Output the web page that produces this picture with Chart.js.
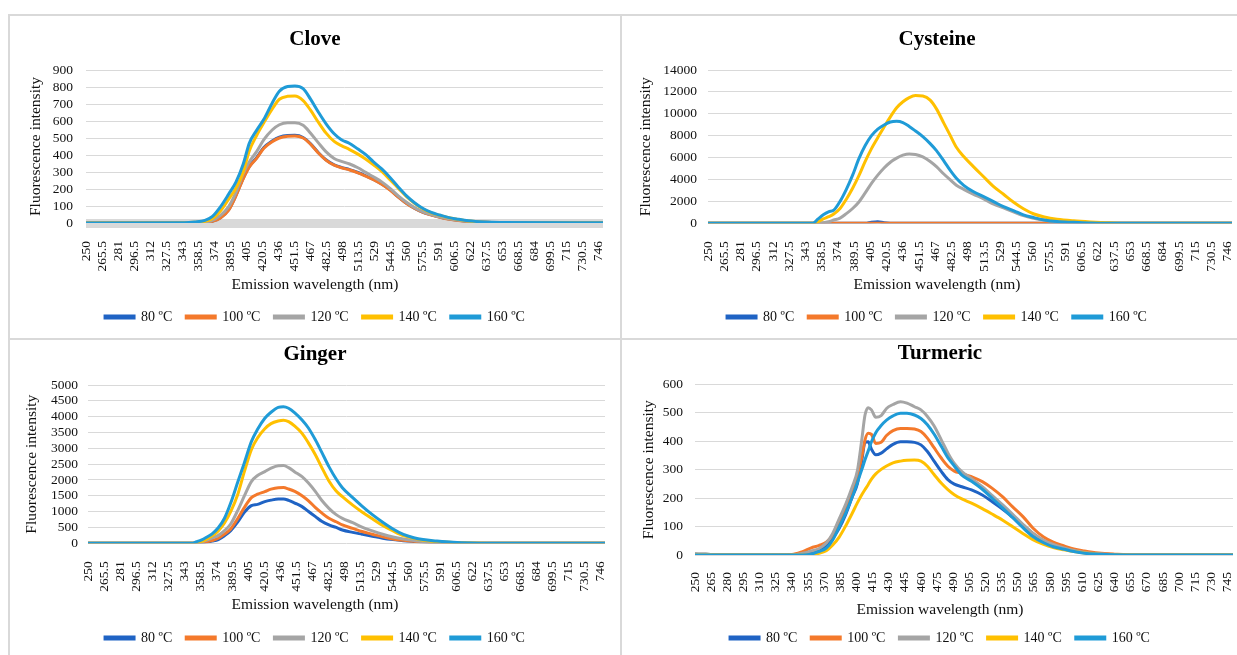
<!DOCTYPE html>
<html>
<head>
<meta charset="utf-8">
<script src="https://cdn.jsdelivr.net/npm/chart.js@4.4.0/dist/chart.umd.min.js"></script>
<style>
  html, body { margin: 0; padding: 0; background: #fff; }
  body { width: 1237px; height: 655px; position: relative; overflow: hidden; }
  .rule { position: absolute; background: #d9d9d9; }
  canvas { position: absolute; }
</style>
</head>
<body>
<div class="rule" style="left:9px;top:14px;width:1228px;height:2px"></div>
<div class="rule" style="left:8px;top:14px;width:2px;height:641px"></div>
<div class="rule" style="left:620px;top:14px;width:2px;height:641px"></div>
<div class="rule" style="left:9px;top:338px;width:1228px;height:2px"></div>
<canvas id="clove" width="612" height="324" style="left:9px;top:15px"></canvas>
<canvas id="cysteine" width="616" height="324" style="left:621px;top:15px"></canvas>
<canvas id="ginger" width="612" height="316" style="left:9px;top:339px"></canvas>
<canvas id="turmeric" width="616" height="316" style="left:621px;top:339px"></canvas>
<script>
// series names and axis labels
const seriesNames = ['80 ºC', '100 ºC', '120 ºC', '140 ºC', '160 ºC'];
const tickNm = [250, 265.5, 281, 296.5, 312, 327.5, 343, 358.5, 374, 389.5, 405, 420.5, 436, 451.5, 467, 482.5,
  498, 513.5, 529, 544.5, 560, 575.5, 591, 606.5, 622, 637.5, 653, 668.5, 684, 699.5, 715, 730.5, 746];
const tickNmTurmeric = [250, 265, 280, 295, 310, 325, 340, 355, 370, 385, 400, 415, 430, 445, 460, 475, 490,
  505, 520, 535, 550, 565, 580, 595, 610, 625, 640, 655, 670, 685, 700, 715, 730, 745];

// Clove
const cloveNm = [250, 345, 355, 365, 372, 380, 388, 395, 402, 408, 415, 422, 430, 437, 445, 452, 460, 467, 475, 482,
  490, 497, 505, 513, 520, 528, 536, 544, 552, 560, 568, 576, 584, 592, 600, 610, 620, 635, 650, 750];
const clove80 = [0, 0, 1, 4, 10, 31, 78, 162, 263, 333, 384, 444, 482, 505, 515, 516, 503, 467, 412, 372,
  342, 327, 314, 297, 279, 257, 230, 196, 154, 116, 86, 63, 48, 35, 25, 16, 9, 4, 2, 0];
const clove100 = [0, 0, 1, 4, 10, 30, 76, 160, 260, 330, 380, 440, 478, 500, 510, 512, 500, 465, 410, 370,
  340, 325, 312, 295, 277, 255, 228, 194, 152, 115, 85, 62, 47, 34, 24, 15, 9, 4, 2, 0];
const clove120 = [0, 0, 2, 6, 15, 45, 96, 180, 290, 360, 420, 490, 547, 578, 590, 590, 575, 530, 470, 420,
  380, 362, 347, 325, 300, 272, 242, 204, 160, 122, 90, 66, 50, 36, 26, 17, 10, 4, 2, 0];
const clove140 = [0, 1, 4, 10, 25, 70, 140, 205, 300, 425, 515, 590, 670, 728, 745, 747, 720, 665, 590, 530,
  480, 455, 432, 405, 378, 342, 303, 255, 205, 155, 115, 82, 60, 45, 32, 21, 12, 5, 2, 1];
const clove160 = [0, 2, 6, 15, 37, 95, 170, 240, 345, 470, 545, 610, 705, 775, 803, 806, 790, 730, 650, 585,
  525, 490, 468, 435, 405, 360, 318, 268, 212, 160, 118, 85, 62, 47, 33, 22, 13, 6, 3, 1];

// Cysteine
const cysNm = [250, 350, 355, 360, 365, 370, 376, 382, 388, 394, 400, 406, 412, 418, 424, 430, 436, 442, 448, 455,
  462, 468, 475, 481, 487, 494, 503, 513, 522, 532, 542, 551, 561, 571, 583, 599, 615, 630, 645, 750];
const cys80 = [0, 0, 0, 0, 0, 0, 0, 0, 0, 0, 0, 100, 150, 40, 0, 0, 0, 0, 0, 0,
  0, 0, 0, 0, 0, 0, 0, 0, 0, 0, 0, 0, 0, 0, 0, 0, 0, 0, 0, 0];
const cys100 = [0, 0, 0, 0, 0, 0, 0, 0, 0, 0, 0, 0, 0, 0, 0, 0, 0, 0, 0, 0,
  0, 0, 0, 0, 0, 0, 0, 0, 0, 0, 0, 0, 0, 0, 0, 0, 0, 0, 0, 0];
const cys120 = [0, 0, 0, 50, 150, 300, 480, 880, 1350, 1950, 2780, 3650, 4400, 5050, 5580, 5950, 6220, 6330, 6290, 6060,
  5640, 5170, 4500, 3980, 3480, 3100, 2670, 2230, 1770, 1400, 1030, 700, 460, 280, 160, 80, 30, 10, 0, 0];
const cys140 = [0, 0, 150, 400, 600, 850, 1350, 2200, 3200, 4350, 5650, 6820, 7820, 8800, 9720, 10550, 11100, 11480, 11660, 11620,
  11250, 10450, 9150, 8050, 6950, 6100, 5200, 4250, 3400, 2650, 1900, 1330, 850, 580, 380, 230, 130, 60, 10, 0];
const cys160 = [0, 0, 400, 780, 1050, 1200, 2000, 3100, 4400, 5900, 7100, 8000, 8600, 8980, 9250, 9315, 9200, 8850, 8430, 7915,
  7280, 6640, 5700, 4850, 4110, 3470, 2900, 2430, 2000, 1520, 1140, 770, 520, 300, 155, 90, 30, 10, 0, 0];

// Ginger
const gingerNm = [250, 350, 355, 360, 365, 370, 376, 382, 388, 395, 401, 408, 414, 421, 427, 434, 439, 444, 450, 457,
  463, 470, 476, 483, 490, 496, 506, 515, 525, 535, 545, 555, 565, 574, 587, 603, 620, 640, 750];
const ginger80 = [0, 0, 3, 15, 40, 70, 120, 240, 400, 684, 970, 1189, 1228, 1316, 1363, 1400, 1402, 1358, 1270, 1158,
  1012, 842, 696, 579, 500, 421, 345, 287, 223, 160, 116, 83, 58, 38, 17, 5, 1, 0, 0];
const ginger100 = [0, 0, 5, 20, 50, 90, 160, 290, 455, 790, 1120, 1442, 1550, 1631, 1710, 1757, 1760, 1716, 1640, 1505,
  1350, 1126, 960, 790, 680, 579, 472, 372, 287, 202, 137, 94, 62, 40, 18, 6, 2, 0, 0];
const ginger120 = [0, 0, 10, 40, 100, 170, 250, 400, 610, 1050, 1480, 1950, 2140, 2263, 2375, 2452, 2455, 2389, 2255, 2105,
  1910, 1631, 1360, 1105, 905, 790, 650, 512, 393, 286, 200, 135, 86, 58, 28, 10, 3, 0, 0];
const ginger140 = [0, 0, 20, 60, 140, 240, 390, 640, 1000, 1560, 2240, 2960, 3330, 3620, 3780, 3865, 3890, 3842, 3700, 3473,
  3180, 2789, 2400, 1968, 1650, 1474, 1205, 990, 775, 562, 389, 240, 155, 98, 55, 22, 6, 2, 0];
const ginger160 = [0, 0, 50, 110, 200, 300, 490, 790, 1270, 1950, 2520, 3210, 3600, 3950, 4140, 4295, 4316, 4265, 4120, 3895,
  3650, 3263, 2880, 2421, 2030, 1757, 1440, 1175, 905, 668, 453, 280, 175, 117, 75, 33, 10, 3, 0];

// Turmeric
const turNm = [250, 260, 270, 340, 350, 358, 365, 372, 378, 384, 390, 396, 401, 405, 408, 411, 414, 418, 423, 428,
  434, 441, 447, 454, 460, 466, 472, 479, 485, 491, 498, 507, 517, 526, 536, 545, 555, 564, 574, 583,
  593, 602, 612, 625, 640, 660, 750];
const tur80 = [0, 0, 0, 0, 2, 8, 16, 30, 59, 94, 142, 203, 252, 332, 395, 398, 372, 352, 358, 373,
  389, 398, 398, 396, 387, 364, 331, 293, 265, 249, 240, 229, 211, 188, 161, 134, 104, 76, 50, 35,
  23, 15, 9, 4, 1, 0, 0];
const tur100 = [0, 0, 0, 2, 12, 25, 33, 45, 70, 113, 165, 225, 282, 345, 405, 428, 424, 392, 396, 420,
  437, 445, 445, 443, 434, 411, 378, 340, 312, 295, 287, 275, 258, 235, 204, 170, 134, 95, 63, 45,
  32, 21, 14, 7, 3, 0, 0];
const tur120 = [5, 4, 0, 0, 6, 14, 22, 42, 76, 127, 178, 238, 298, 405, 492, 518, 510, 484, 490, 515,
  529, 539, 534, 521, 510, 487, 455, 404, 359, 322, 293, 268, 240, 210, 176, 144, 107, 77, 52, 37,
  25, 16, 9, 4, 1, 0, 0];
const tur140 = [0, 0, 0, 0, 0, 2, 6, 15, 35, 63, 102, 146, 184, 212, 230, 248, 267, 285, 301, 313,
  324, 330, 333, 334, 330, 312, 284, 252, 230, 212, 197, 182, 163, 144, 122, 100, 75, 54, 37, 26,
  18, 12, 7, 3, 1, 0, 0];
const tur160 = [0, 0, 0, 0, 0, 3, 12, 24, 53, 99, 147, 203, 256, 300, 335, 366, 398, 430, 455, 474,
  489, 498, 498, 492, 480, 458, 426, 381, 342, 313, 281, 259, 231, 200, 165, 132, 95, 65, 43, 29,
  20, 12, 6, 3, 1, 0, 0];

const colors = ['#1f63c4', '#f4792b', '#a5a5a5', '#ffc000', '#1f9bd7'];
const serif = "'Liberation Serif', 'Times New Roman', serif";
const ink = '#111';

function drawPanel(id, title, nm, series, ticks, yMax, yStep, box) {
  const datasets = series.map((values, i) => ({
    label: seriesNames[i],
    data: values.map((v, j) => ({ x: nm[j], y: v })),
    borderColor: colors[i],
    backgroundColor: colors[i],
    borderWidth: 3,
    pointRadius: 0,
    cubicInterpolationMode: 'monotone',
    order: series.length - i   // later series on top, like Excel
  }));

  new Chart(document.getElementById(id), {
    type: 'line',
    data: { datasets },
    options: {
      responsive: false,
      animation: false,
      layout: { padding: { left: box.padL, right: box.padR, top: 0, bottom: box.padB } },
      plugins: {
        title: {
          display: true, text: title, color: '#000',
          font: { family: serif, size: 21, weight: 'bold' },
          padding: { top: box.titleTop, bottom: box.titleBottom }
        },
        subtitle: {
          display: true, text: 'Emission wavelength (nm)', position: 'bottom', weight: 500,
          color: ink, font: { family: serif, size: 15.5 },
          padding: { top: 0, bottom: box.xTitleBottom }
        },
        legend: {
          position: 'bottom',
          labels: {
            boxWidth: 29, boxHeight: 2, padding: 14, color: ink,
            font: { family: serif, size: 14 },
            sort: (a, b) => a.datasetIndex - b.datasetIndex
          }
        },
        tooltip: { enabled: false }
      },
      scales: {
        x: {
          type: 'linear', min: 250, max: 750,
          afterBuildTicks: s => { s.ticks = ticks.map(v => ({ value: v })); },
          afterFit: s => { s.height = box.xHeight; s.paddingLeft = 0; s.paddingRight = 0; },
          ticks: {
            autoSkip: false, minRotation: 90, maxRotation: 90, padding: box.xTickPad,
            color: ink, font: { family: serif, size: 13.5 },
            callback: v => String(v)
          },
          grid: { display: false },
          border: { display: false }
        },
        y: {
          min: 0, max: yMax,
          afterFit: s => { s.width = box.yWidth; s.paddingTop = 0; s.paddingBottom = 0; },
          ticks: {
            stepSize: yStep, autoSkip: false, padding: box.yTickPad, color: ink,
            font: { family: serif, size: 13.5 },
            callback: v => String(v)
          },
          grid: {
            color: '#d9d9d9', drawTicks: false,
            lineWidth: c => (box.zeroBand && c.tick && c.tick.value === 0) ? 9 : 1
          },
          border: { display: false },
          title: {
            display: true, text: 'Fluorescence intensity', color: ink,
            font: { family: serif, size: 15.5 },
            padding: { top: box.yTitlePad, bottom: 0 }
          }
        }
      }
    }
  });
}

drawPanel('clove', 'Clove', cloveNm, [clove80, clove100, clove120, clove140, clove160], tickNm, 900, 100,
  { padL: 18, padR: 18, padB: 5, titleTop: 12.4, titleBottom: 17.4, xTitleBottom: 1.7, xHeight: 52.7,
    yWidth: 59, yTitlePad: -0.7, yTickPad: 13, xTickPad: 10, zeroBand: true });

drawPanel('cysteine', 'Cysteine', cysNm, [cys80, cys100, cys120, cys140, cys160], tickNm, 14000, 2000,
  { padL: 21, padR: 5, padB: 5, titleTop: 12.4, titleBottom: 17.4, xTitleBottom: 1.7, xHeight: 52.4,
    yWidth: 66, yTitlePad: -5.7, yTickPad: 11, xTickPad: 10 });

drawPanel('ginger', 'Ginger', gingerNm, [ginger80, ginger100, ginger120, ginger140, ginger160], tickNm, 5000, 500,
  { padL: 16, padR: 16, padB: 0, titleTop: 2.7, titleBottom: 18.1, xTitleBottom: 2.7, xHeight: 52.4,
    yWidth: 63, yTitlePad: -2.7, yTickPad: 10, xTickPad: 10 });

drawPanel('turmeric', 'Turmeric', turNm, [tur80, tur100, tur120, tur140, tur160], tickNmTurmeric, 600, 100,
  { padL: 26, padR: 4, padB: 0, titleTop: 1.7, titleBottom: 18.4, xTitleBottom: -2.3, xHeight: 45.7,
    yWidth: 48, yTitlePad: -7.7, yTickPad: 12, xTickPad: 9 });
</script>
</body>
</html>
